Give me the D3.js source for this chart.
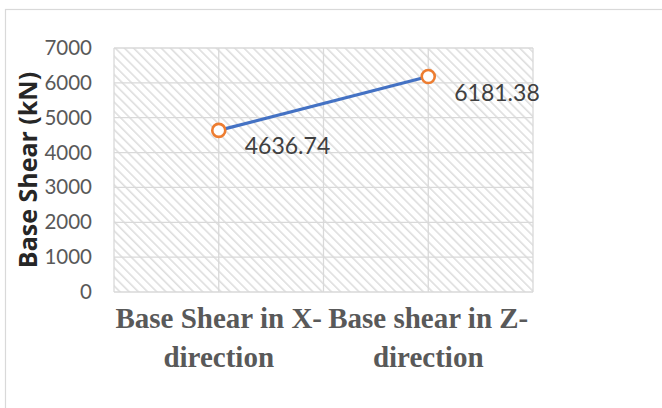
<!DOCTYPE html>
<html>
<head>
<meta charset="utf-8">
<script src="https://cdn.jsdelivr.net/npm/d3@7"></script>
<style>
  body { margin: 0; background: #fff; }
  svg { display: block; }
</style>
</head>
<body>
<svg></svg>
<script>
const categories = [['Base Shear in X-', 'direction'], ['Base shear in Z-', 'direction']]
const values = [4636.74, 6181.38]
const yTicks = [0, 1000, 2000, 3000, 4000, 5000, 6000, 7000]

const width = 662
const height = 408
const margin = {top: 48, right: 129, bottom: 116, left: 114}
const innerW = width - margin.left - margin.right
const innerH = height - margin.top - margin.bottom

const svg = d3.select('svg').attr('width', width).attr('height', height)

// hatch pattern for the plot area (downward diagonal)
const defs = svg.append('defs')
const pat = defs.append('pattern').attr('id', 'hatch')
  .attr('patternUnits', 'userSpaceOnUse').attr('width', 6.5).attr('height', 6.5)
  .attr('patternTransform', 'rotate(-45)')
pat.append('rect').attr('width', 6.5).attr('height', 6.5).attr('fill', '#fff')
pat.append('line').attr('x1', 0).attr('y1', 0).attr('x2', 0).attr('y2', 6.5)
  .attr('stroke', '#dedede').attr('stroke-width', 3.2)

// chart border
svg.append('rect').attr('x', 5.5).attr('y', 9.5).attr('width', 800).attr('height', 600)
  .attr('fill', 'none').attr('stroke', '#d9d9d9').attr('stroke-width', 1.2)

const x = d3.scaleBand().domain(d3.range(categories.length)).range([0, innerW])
const xGrid = d3.scaleLinear().domain([0, categories.length * 2]).range([0, innerW])
const y = d3.scaleLinear().domain([0, 7000]).range([innerH, 0])

const g = svg.append('g').attr('transform', `translate(${margin.left},${margin.top})`)

g.append('rect').attr('width', innerW).attr('height', innerH).attr('fill', 'url(#hatch)')

// gridlines
g.selectAll('.hgrid').data(yTicks).enter().append('line')
  .attr('x1', 0).attr('x2', innerW)
  .attr('y1', d => y(d)).attr('y2', d => y(d))
  .attr('stroke', '#d9d9d9').attr('stroke-width', 1.3)
g.selectAll('.vgrid').data(d3.range(categories.length * 2 + 1)).enter().append('line')
  .attr('x1', d => xGrid(d)).attr('x2', d => xGrid(d))
  .attr('y1', 0).attr('y2', innerH)
  .attr('stroke', '#d9d9d9').attr('stroke-width', 1.3)

// y axis labels
const yAxis = d3.axisLeft(y).tickValues(yTicks).tickSize(0).tickPadding(22).tickFormat(d3.format('d'))
const ya = g.append('g').call(yAxis)
ya.select('.domain').remove()
ya.selectAll('text').attr('font-family', 'Lato, "Open Sans", sans-serif')
  .attr('font-size', 20.5).attr('fill', '#595959')

// x axis labels
const xa = g.append('g').attr('transform', `translate(0,${innerH})`)
xa.selectAll('text').data(categories).enter().append('text')
  .attr('x', (d, i) => x(i) + x.bandwidth() / 2)
  .attr('text-anchor', 'middle')
  .attr('font-family', '"Liberation Serif", "Times New Roman", serif')
  .attr('font-weight', 'bold').attr('font-size', 29).attr('fill', '#595959')
  .each(function (d) {
    d3.select(this).selectAll('tspan').data(d).enter().append('tspan')
      .attr('x', d3.select(this).attr('x'))
      .attr('y', (t, k) => 36 + k * 39)
      .text(t => t)
  })

// y title
svg.append('text')
  .attr('transform', `translate(37,${margin.top + innerH / 2}) rotate(-90)`)
  .attr('text-anchor', 'middle')
  .attr('font-family', '"Open Sans", Lato, sans-serif')
  .attr('font-weight', 'bold').attr('font-size', 25).attr('fill', '#262626')
  .text('Base Shear (kN)')

// line
const line = d3.line().x((d, i) => x(i) + x.bandwidth() / 2).y(d => y(d))
g.append('path').datum(values).attr('d', line)
  .attr('fill', 'none').attr('stroke', '#4472c4').attr('stroke-width', 3.2)

g.selectAll('.pt').data(values).enter().append('circle')
  .attr('cx', (d, i) => x(i) + x.bandwidth() / 2).attr('cy', d => y(d))
  .attr('r', 6.5).attr('fill', '#fff').attr('stroke', '#ed7d31').attr('stroke-width', 2.6)

g.selectAll('.lbl').data(values).enter().append('text')
  .attr('x', (d, i) => x(i) + x.bandwidth() / 2 + 26).attr('y', d => y(d) + 24)
  .attr('font-family', 'Lato, "Open Sans", sans-serif')
  .attr('font-size', 23).attr('fill', '#404040')
  .text(d => d.toFixed(2))
</script>
</body>
</html>
